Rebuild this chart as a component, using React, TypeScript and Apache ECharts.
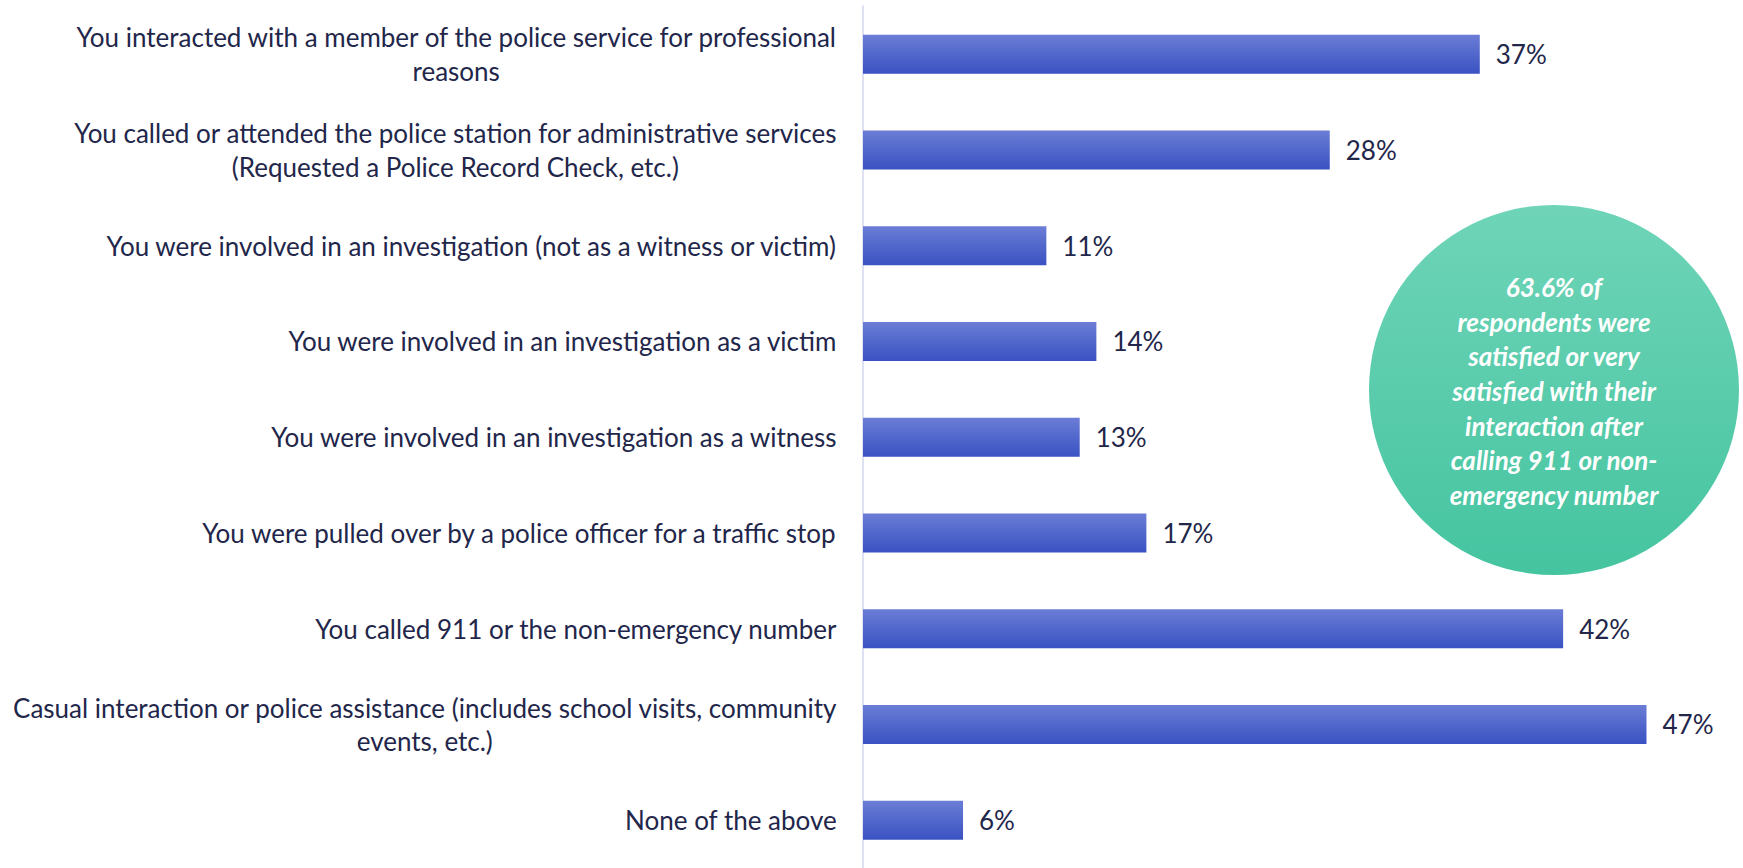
import React, { useEffect, useRef } from "react";
import * as echarts from "echarts";

const categories: string[] = [
  "You interacted with a member of the police service for professional\nreasons",
  "You called or attended the police station for administrative services\n(Requested a Police Record Check, etc.)",
  "You were involved in an investigation (not as a witness or victim)",
  "You were involved in an investigation as a victim",
  "You were involved in an investigation as a witness",
  "You were pulled over by a police officer for a traffic stop",
  "You called 911 or the non-emergency number",
  "Casual interaction or police assistance (includes school visits, community\nevents, etc.)",
  "None of the above",
];

const values: number[] = [37, 28, 11, 14, 13, 17, 42, 47, 6];

const calloutLines: string[] = [
  "63.6% of",
  "respondents were",
  "satisfied or very",
  "satisfied with their",
  "interaction after",
  "calling 911 or non-",
  "emergency number",
];

const FONT = "Lato, 'Open Sans', sans-serif";
const TEXT = "#22264a";

export default function App() {
  const ref = useRef<HTMLDivElement>(null);
  useEffect(() => {
    if (!ref.current) return;
    const chart = echarts.init(ref.current, undefined, { renderer: "svg" });
    chart.setOption({
      animation: false,
      backgroundColor: "#ffffff",
      grid: { left: 863, right: 46.5, top: 6.25, bottom: -3, containLabel: false },
      xAxis: {
        type: "value",
        min: 0,
        max: 50,
        show: false,
      },
      yAxis: {
        type: "category",
        inverse: true,
        data: categories,
        axisLine: { show: true, lineStyle: { color: "#dfe1f3", width: 2 } },
        axisTick: { show: false },
        splitLine: { show: false },
        axisLabel: {
          margin: 26,
          align: "right",
          fontFamily: FONT,
          fontSize: 26,
          color: TEXT,
          formatter: (v: string) =>
            v
              .split("\n")
              .map((l) => `{c|${l}}`)
              .join("\n"),
          rich: {
            c: {
              align: "center",
              fontFamily: FONT,
              fontSize: 26,
              color: TEXT,
              lineHeight: 33.5,
            },
          },
        },
      },
      series: [
        {
          type: "bar",
          data: values,
          barWidth: 39,
          itemStyle: {
            color: new echarts.graphic.LinearGradient(0, 0, 0, 1, [
              { offset: 0, color: "#6b7dd6" },
              { offset: 1, color: "#3a52c2" },
            ]),
          },
          label: {
            show: true,
            position: "right",
            distance: 16,
            formatter: "{c}%",
            fontFamily: FONT,
            fontSize: 26,
            color: TEXT,
          },
        },
      ],
      graphic: [
        {
          type: "circle",
          shape: { cx: 1554, cy: 390, r: 185 },
          style: {
            fill: new echarts.graphic.LinearGradient(0, 0, 0, 1, [
              { offset: 0, color: "#6fd4b8" },
              { offset: 1, color: "#45c4a0" },
            ]),
          },
          z: 10,
        },
        {
          type: "text",
          x: 1554,
          y: 391,
          z: 11,
          style: {
            text: calloutLines.join("\n"),
            fill: "#ffffff",
            fontFamily: FONT,
            fontSize: 26,
            fontWeight: "bold",
            fontStyle: "italic",
            lineHeight: 34.7,
            align: "center",
            verticalAlign: "middle",
          },
        },
      ],
    });
    return () => chart.dispose();
  }, []);
  return (
    <div
      ref={ref}
      style={{ position: "fixed", left: 0, top: 0, width: 1743, height: 868 }}
    />
  );
}
